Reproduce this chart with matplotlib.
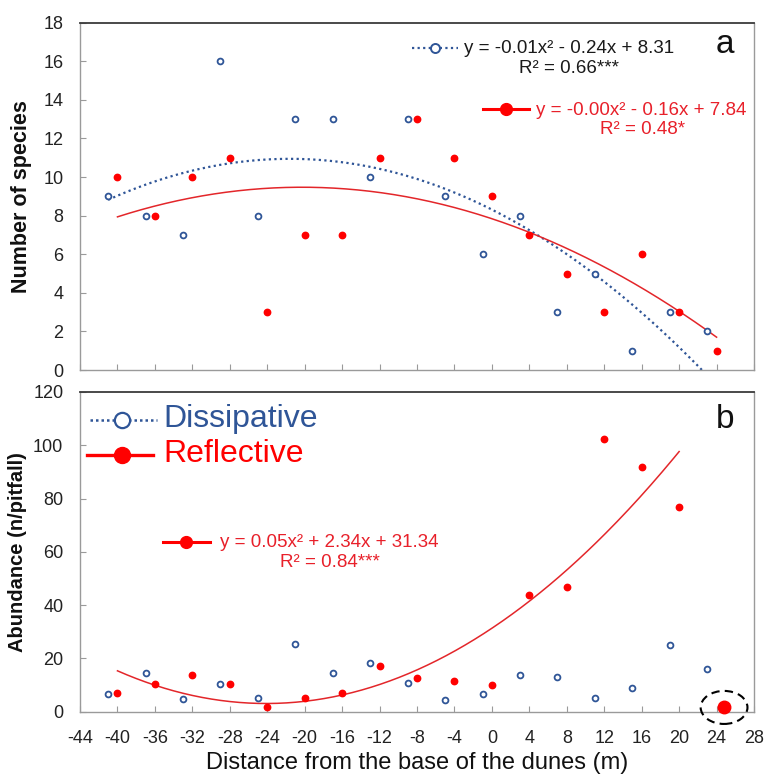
import numpy as np
import matplotlib
matplotlib.use("Agg")
import matplotlib.pyplot as plt
from matplotlib.patches import Ellipse

plt.rcParams["font.family"] = ["Liberation Sans", "DejaVu Sans"]
plt.rcParams["axes.unicode_minus"] = False

# Sampling positions along the transect (m from dune base)
dis_x = [-41, -37, -33, -29, -25, -21, -17, -13, -9, -5, -1, 3, 7, 11, 15, 19, 23]
ref_x = [-40, -36, -32, -28, -24, -20, -16, -12, -8, -4, 0, 4, 8, 12, 16, 20, 24]

# (a) number of species
dis_species = [9, 8, 7, 16, 8, 13, 13, 10, 13, 9, 6, 8, 3, 5, 1, 3, 2]
ref_species = [10, 8, 10, 11, 3, 7, 7, 11, 13, 11, 9, 7, 5, 3, 6, 3, 1]

# (b) abundance (n/pitfall); the last reflective station is an outlier kept out of the fit
dis_abund = [6.5, 14.4, 4.8, 10.3, 5.3, 25.3, 14.4, 18.3, 10.8, 4.4, 6.5, 13.9, 12.9, 5.3, 9.0, 24.9, 16.2]
ref_abund = [6.9, 10.5, 13.9, 10.4, 1.6, 5.3, 6.9, 17.3, 12.8, 11.5, 10.2, 43.7, 46.7, 102.2, 91.7, 76.8]
outlier_x = [24.8]
outlier_y = [1.6]

x_ticks = list(range(-44, 29, 4))
species_ticks = list(range(0, 19, 2))
abund_ticks = list(range(0, 121, 20))

eq_dis_a = ("y = -0.01x\u00b2 - 0.24x + 8.31", "R\u00b2 = 0.66***")
eq_ref_a = ("y = -0.00x\u00b2 - 0.16x + 7.84", "R\u00b2 = 0.48*")
eq_ref_b = ("y = 0.05x\u00b2 + 2.34x + 31.34", "R\u00b2 = 0.84***")

BLUE = "#2f5597"
RED_PT = "#ff0000"
RED_LN = "#e3262a"
RED_TX = "#e8202a"

fig = plt.figure(figsize=(7.68, 7.79), dpi=100)
ax1 = fig.add_axes([0.1042, 0.525, 0.8776, 0.4459])
ax2 = fig.add_axes([0.1042, 0.0864, 0.8776, 0.4104])


def style(ax):
    for side in ("left", "bottom", "right"):
        ax.spines[side].set_color("#9a9a9a")
        ax.spines[side].set_linewidth(1.0)
    ax.spines["top"].set_color("#3a3a3a")
    ax.spines["top"].set_linewidth(1.3)
    ax.tick_params(direction="in", length=4, width=0.8, color="#9a9a9a",
                   labelsize=13, labelcolor="#222222")
    ax.tick_params(axis="y", pad=12)
    ax.tick_params(axis="x", pad=13)
    ax.set_xlim(-44, 28)
    ax.set_xticks(x_ticks)


def fit_curve(ax, xs, ys, **kw):
    coef = np.polyfit(xs, ys, 2)
    xx = np.linspace(min(xs), max(xs), 300)
    ax.plot(xx, np.polyval(coef, xx), **kw)


# ---------- panel a ----------
style(ax1)
ax1.set_ylim(0, 18)
ax1.set_yticks(species_ticks)
ax1.tick_params(labelbottom=False)
fit_curve(ax1, dis_x, dis_species, color=BLUE, lw=1.6, linestyle=(0, (1, 1.5)))
fit_curve(ax1, ref_x, ref_species, color=RED_LN, lw=1.1)
ax1.plot(dis_x, dis_species, "o", ms=4.2, mfc="white", mec=BLUE, mew=1.3, zorder=3)
ax1.plot(ref_x, ref_species, "o", ms=4.6, color=RED_PT, mec=RED_PT, zorder=3)
ax1.set_ylabel("Number of species", fontsize=15.5, fontweight="bold", color="#111111")
ax1.yaxis.set_label_coords(-0.071, 0.5)

# trend labels
ax1.plot([0.492, 0.561], [0.928, 0.928], transform=ax1.transAxes, color=BLUE,
         lw=1.6, linestyle=(0, (1, 1.5)), clip_on=False)
ax1.plot([0.527], [0.928], "o", transform=ax1.transAxes, ms=6.5, mfc="white",
         mec=BLUE, mew=1.4, clip_on=False)
ax1.text(0.725, 0.912, eq_dis_a[0], transform=ax1.transAxes, ha="center",
         va="baseline", fontsize=13.5, color="#1a1a1a")
ax1.text(0.725, 0.856, eq_dis_a[1], transform=ax1.transAxes, ha="center",
         va="baseline", fontsize=13.5, color="#1a1a1a")
ax1.plot([0.598, 0.666], [0.751, 0.751], transform=ax1.transAxes, color=RED_PT,
         lw=2.2, clip_on=False)
ax1.plot([0.632], [0.751], "o", transform=ax1.transAxes, ms=8.5, color=RED_PT,
         clip_on=False)
ax1.text(0.833, 0.734, eq_ref_a[0], transform=ax1.transAxes, ha="center",
         va="baseline", fontsize=13.5, color=RED_TX)
ax1.text(0.835, 0.679, eq_ref_a[1], transform=ax1.transAxes, ha="center",
         va="baseline", fontsize=13.5, color=RED_TX)
ax1.text(0.957, 0.912, "a", transform=ax1.transAxes, ha="center", va="baseline",
         fontsize=24, color="#111111")

# ---------- panel b ----------
style(ax2)
ax2.set_ylim(0, 120)
ax2.set_yticks(abund_ticks)
fit_curve(ax2, ref_x[:len(ref_abund)], ref_abund, color=RED_LN, lw=1.1)
ax2.plot(dis_x, dis_abund, "o", ms=4.2, mfc="white", mec=BLUE, mew=1.3, zorder=3)
ax2.plot(ref_x[:len(ref_abund)], ref_abund, "o", ms=4.6, color=RED_PT, mec=RED_PT, zorder=3)
ax2.plot(outlier_x, outlier_y, "o", ms=9, color=RED_PT, zorder=4, clip_on=False)
ax2.add_patch(Ellipse((outlier_x[0], outlier_y[0]), width=5.0, height=12.4,
                      fill=False, edgecolor="black", lw=1.5,
                      linestyle=(0, (4, 2.5)), clip_on=False, zorder=5))
ax2.set_ylabel("Abundance (n/pitfall)", fontsize=14.5, fontweight="bold", color="#111111")
ax2.yaxis.set_label_coords(-0.078, 0.5)
ax2.set_xlabel("Distance from the base of the dunes (m)", fontsize=17, color="#111111",
               labelpad=4)

# series key
ax2.plot([0.0148, 0.114], [0.912, 0.912], transform=ax2.transAxes, color=BLUE,
         lw=1.8, linestyle=(0, (1, 1.2)), clip_on=False)
ax2.plot([0.062], [0.912], "o", transform=ax2.transAxes, ms=11, mfc="white",
         mec=BLUE, mew=1.6, clip_on=False)
ax2.text(0.123, 0.889, "Dissipative", transform=ax2.transAxes, ha="left",
         va="baseline", fontsize=23, color=BLUE)
ax2.plot([0.011, 0.108], [0.804, 0.804], transform=ax2.transAxes, color=RED_PT,
         lw=2.4, clip_on=False)
ax2.plot([0.062], [0.804], "o", transform=ax2.transAxes, ms=11.5, color=RED_PT,
         clip_on=False)
ax2.text(0.123, 0.782, "Reflective", transform=ax2.transAxes, ha="left",
         va="baseline", fontsize=23, color=RED_PT)

# trend label
ax2.plot([0.123, 0.193], [0.531, 0.531], transform=ax2.transAxes, color=RED_PT,
         lw=2.2, clip_on=False)
ax2.plot([0.157], [0.531], "o", transform=ax2.transAxes, ms=8.5, color=RED_PT,
         clip_on=False)
ax2.text(0.370, 0.516, eq_ref_b[0], transform=ax2.transAxes, ha="center",
         va="baseline", fontsize=13.5, color=RED_TX)
ax2.text(0.371, 0.454, eq_ref_b[1], transform=ax2.transAxes, ha="center",
         va="baseline", fontsize=13.5, color=RED_TX)
ax2.text(0.957, 0.886, "b", transform=ax2.transAxes, ha="center", va="baseline",
         fontsize=24, color="#111111")

fig.savefig("out.png", dpi=100)
